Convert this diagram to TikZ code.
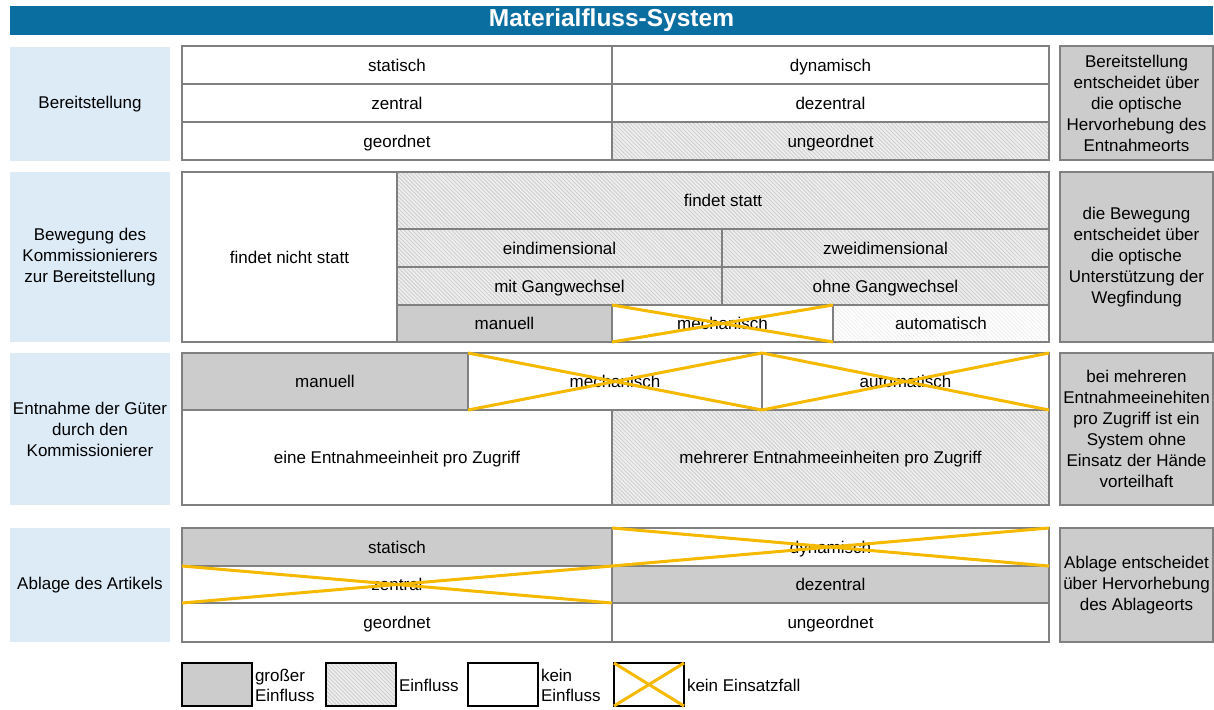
\documentclass[tikz,border=0pt]{standalone}
\usepackage{fontspec}
\setmainfont{Liberation Sans}
\usetikzlibrary{patterns.meta}

\definecolor{titleblue}{RGB}{11,110,160}
\definecolor{labelblue}{RGB}{221,235,247}
\definecolor{cellgray}{RGB}{204,204,204}
\definecolor{gridgray}{RGB}{128,128,128}
\definecolor{crossyellow}{RGB}{245,185,0}
\definecolor{hatchbase}{RGB}{238,238,238}
\definecolor{hatchline}{RGB}{205,205,205}
\definecolor{faintline}{RGB}{238,238,238}

% a rectangular cell given by its corners: name, style, x1, y1, x2, y2, text
\newcommand\mfcell[7]{%
  \node[#2, minimum width={(#5-#3)*1pt}, minimum height={(#6-#4)*1pt}]
    (#1) at ({(#3+#5)/2},{(#4+#6)/2}) {#7};}

\tikzset{
  base/.style={rectangle, inner sep=0pt, outer sep=0pt, align=center,
    font=\fontsize{17pt}{21pt}\selectfont},
  oneline/.style={base, text height=14pt, text depth=1.6pt},
  cellwhite/.style={oneline, draw=gridgray, line width=2pt, fill=white},
  cellgrey/.style={oneline, draw=gridgray, line width=2pt, fill=cellgray},
  hatchfill/.style={preaction={fill=hatchbase},
    pattern={Lines[angle=-45, distance=2.8pt, line width=0.8pt]},
    pattern color=hatchline},
  cellhatch/.style={oneline, draw=gridgray, line width=2pt, hatchfill},
  cellfaint/.style={oneline, draw=gridgray, line width=2pt,
    preaction={fill=white},
    pattern={Lines[angle=-45, distance=2.8pt, line width=0.8pt]},
    pattern color=faintline},
  rowlabel/.style={base, fill=labelblue},
  note/.style={base, draw=gridgray, line width=2pt, fill=cellgray},
  legendbox/.style={base, draw=black, line width=2.5pt},
  legendtext/.style={base, anchor=west, align=left,
    font=\fontsize{17pt}{20pt}\selectfont},
  crossline/.style={draw=crossyellow, line width=3pt},
}

\newcommand\mfcross[1]{%
  \draw[crossline] (#1.north west) -- (#1.south east);
  \draw[crossline] (#1.south west) -- (#1.north east);}

\begin{document}
\begin{tikzpicture}[x=1pt, y=-1pt]
  \useasboundingbox[fill=white] (0,0) rectangle (1214,709);

  % title bar
  \mfcell{title}{base, fill=titleblue, text=white,
    font=\fontsize{24.5pt}{28pt}\selectfont\bfseries}{10}{6}{1213}{35}{Materialfluss-System}

  % row labels
  \mfcell{lab1}{rowlabel}{10}{47}{170}{161}{Bereitstellung}
  \mfcell{lab2}{rowlabel}{10}{172}{170}{342}{Bewegung des\\Kommissionierers\\zur Bereitstellung}
  \mfcell{lab3}{rowlabel}{10}{353}{170}{505}{Entnahme der Güter\\durch den\\Kommissionierer}
  \mfcell{lab4}{rowlabel}{10}{528}{170}{642}{Ablage des Artikels}

  % Bereitstellung
  \mfcell{a1}{cellwhite}{182}{46}{612}{84}{statisch}
  \mfcell{a2}{cellwhite}{612}{46}{1049}{84}{dynamisch}
  \mfcell{a3}{cellwhite}{182}{84}{612}{122}{zentral}
  \mfcell{a4}{cellwhite}{612}{84}{1049}{122}{dezentral}
  \mfcell{a5}{cellwhite}{182}{122}{612}{160}{geordnet}
  \mfcell{a6}{cellhatch}{612}{122}{1049}{160}{ungeordnet}

  % Bewegung des Kommissionierers
  \mfcell{b1}{cellwhite}{182}{172}{397}{342}{findet nicht statt}
  \mfcell{b2}{cellhatch}{397}{172}{1049}{229}{findet statt}
  \mfcell{b3}{cellhatch}{397}{229}{722}{267}{eindimensional}
  \mfcell{b4}{cellhatch}{722}{229}{1049}{267}{zweidimensional}
  \mfcell{b5}{cellhatch}{397}{267}{722}{305}{mit Gangwechsel}
  \mfcell{b6}{cellhatch}{722}{267}{1049}{305}{ohne Gangwechsel}
  \mfcell{b7}{cellgrey}{397}{305}{612}{342}{manuell}
  \mfcell{b8}{cellwhite}{612}{305}{833}{342}{mechanisch}
  \mfcell{b9}{cellfaint}{833}{305}{1049}{342}{automatisch}

  % Entnahme der Güter
  \mfcell{c1}{cellgrey}{182}{353}{468}{410}{manuell}
  \mfcell{c2}{cellwhite}{468}{353}{762}{410}{mechanisch}
  \mfcell{c3}{cellwhite}{762}{353}{1049}{410}{automatisch}
  \mfcell{c4}{cellwhite}{182}{410}{612}{505}{eine Entnahmeeinheit pro Zugriff}
  \mfcell{c5}{cellhatch}{612}{410}{1049}{505}{mehrerer Entnahmeeinheiten pro Zugriff}

  % Ablage des Artikels
  \mfcell{d1}{cellgrey}{182}{528}{612}{566}{statisch}
  \mfcell{d2}{cellwhite}{612}{528}{1049}{566}{dynamisch}
  \mfcell{d3}{cellwhite}{182}{566}{612}{603}{zentral}
  \mfcell{d4}{cellgrey}{612}{566}{1049}{603}{dezentral}
  \mfcell{d5}{cellwhite}{182}{603}{612}{642}{geordnet}
  \mfcell{d6}{cellwhite}{612}{603}{1049}{642}{ungeordnet}

  % excluded options
  \mfcross{b8}
  \mfcross{c2}
  \mfcross{c3}
  \mfcross{d2}
  \mfcross{d3}

  % notes on the right
  \mfcell{n1}{note}{1060}{46}{1213}{160}{Bereitstellung\\entscheidet über\\die optische\\Hervorhebung des\\Entnahmeorts}
  \mfcell{n2}{note}{1060}{172}{1213}{342}{die Bewegung\\entscheidet über\\die optische\\Unterstützung der\\Wegfindung}
  \mfcell{n3}{note}{1060}{353}{1213}{505}{bei mehreren\\Entnahmeeinehiten\\pro Zugriff ist ein\\System ohne\\Einsatz der Hände\\vorteilhaft}
  \mfcell{n4}{note}{1060}{528}{1213}{642}{Ablage entscheidet\\über Hervorhebung\\des Ablageorts}

  % legend
  \mfcell{k1}{legendbox, fill=cellgray}{182}{663}{252}{706}{}
  \node[legendtext] (t1) at (255,685) {großer\\Einfluss};
  \mfcell{k2}{legendbox, hatchfill}{326}{663}{396}{706}{}
  \node[legendtext] (t2) at (399,685) {Einfluss};
  \mfcell{k3}{legendbox, fill=white}{468}{663}{538}{706}{}
  \node[legendtext] (t3) at (541,685) {kein\\Einfluss};
  \mfcell{k4}{legendbox, fill=white}{614}{663}{684}{706}{}
  \mfcross{k4}
  \node[legendtext] (t4) at (687,685) {kein Einsatzfall};
\end{tikzpicture}
\end{document}
